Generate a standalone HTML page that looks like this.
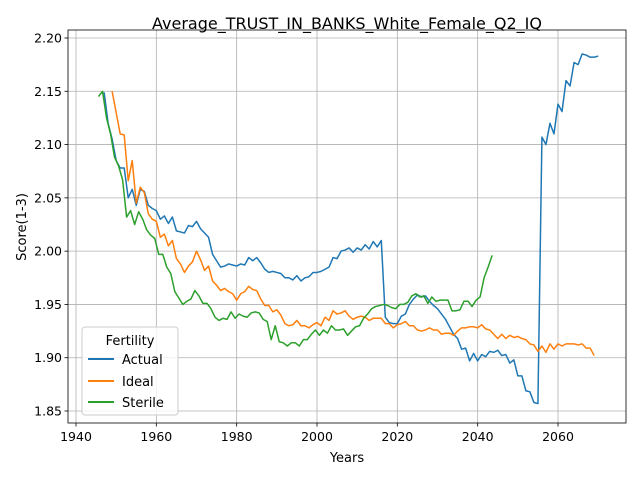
<!DOCTYPE html>
<html><head><meta charset="utf-8"><style>
body{margin:0;background:#fff;font-family:"DejaVu Sans","Liberation Sans",sans-serif}
</style></head><body>
<svg id="chart" width="640" height="480" xmlns="http://www.w3.org/2000/svg" font-family="DejaVu Sans, Liberation Sans, sans-serif">
<rect width="640" height="480" fill="#fff"/>
<text x="347" y="29" text-anchor="middle" font-size="16">Average_TRUST_IN_BANKS_White_Female_Q2_IQ</text>
<g id="grid"></g><g id="series"></g><g id="axes"></g>
<text x="347" y="462" text-anchor="middle" font-size="13">Years</text>
<text transform="translate(26,227) rotate(-90)" text-anchor="middle" font-size="13">Score(1-3)</text>
<g>
<rect x="82" y="327" width="96" height="88" rx="3" fill="#fff" fill-opacity="0.8" stroke="#ccc"/>
<text x="130" y="345" text-anchor="middle" font-size="13">Fertility</text>
<g><line x1="88" y1="359" x2="114" y2="359" stroke="#1f77b4" stroke-width="2"/><text x="122" y="364" font-size="13">Actual</text></g>
<g><line x1="88" y1="381" x2="114" y2="381" stroke="#ff7f0e" stroke-width="2"/><text x="122" y="386" font-size="13">Ideal</text></g>
<g><line x1="88" y1="402" x2="114" y2="402" stroke="#2ca02c" stroke-width="2"/><text x="122" y="407" font-size="13">Sterile</text></g>
</g>
</svg>
<script>
const xTicks=[1940,1960,1980,2000,2020,2040,2060];
const yTicks=[1.85,1.90,1.95,2.00,2.05,2.10,2.15,2.20];
const actualStart=1947;
const actualValues=[2.149,2.12,2.105,2.085,2.078,2.078,2.05,2.058,2.043,2.058,2.056,2.043,2.040,2.038,2.030,2.033,2.026,2.032,2.019,2.018,2.017,2.024,2.023,2.028,2.021,2.017,2.013,1.997,1.991,1.985,1.986,1.988,1.987,1.986,1.988,1.987,1.994,1.991,1.994,1.989,1.983,1.98,1.981,1.980,1.979,1.975,1.975,1.973,1.977,1.972,1.975,1.976,1.980,1.980,1.981,1.983,1.985,1.994,1.993,2.000,2.001,2.003,1.999,2.003,2.001,2.006,2.002,2.009,2.004,2.010,1.938,1.933,1.932,1.932,1.939,1.941,1.950,1.955,1.959,1.957,1.958,1.953,1.949,1.946,1.941,1.936,1.929,1.922,1.918,1.908,1.909,1.897,1.904,1.897,1.903,1.901,1.906,1.905,1.907,1.902,1.903,1.895,1.898,1.883,1.883,1.869,1.868,1.858,1.857,2.107,2.100,2.120,2.110,2.138,2.131,2.160,2.155,2.177,2.175,2.185,2.184,2.182,2.182,2.183];
const idealStart=1949;
const idealValues=[2.15,2.13,2.11,2.109,2.066,2.085,2.045,2.06,2.055,2.035,2.03,2.028,2.013,2.016,2.005,2.01,1.993,1.988,1.98,1.986,1.99,2.0,1.992,1.982,1.986,1.972,1.968,1.963,1.965,1.962,1.96,1.954,1.96,1.962,1.967,1.964,1.963,1.955,1.949,1.949,1.943,1.945,1.940,1.932,1.930,1.931,1.935,1.930,1.930,1.928,1.931,1.933,1.930,1.938,1.935,1.944,1.941,1.942,1.944,1.939,1.936,1.938,1.939,1.938,1.935,1.937,1.937,1.937,1.932,1.932,1.928,1.931,1.932,1.934,1.930,1.930,1.926,1.925,1.926,1.928,1.926,1.926,1.922,1.923,1.923,1.921,1.925,1.928,1.928,1.929,1.929,1.928,1.931,1.927,1.926,1.922,1.918,1.922,1.918,1.921,1.919,1.920,1.918,1.917,1.913,1.912,1.906,1.911,1.905,1.913,1.908,1.913,1.911,1.913,1.913,1.913,1.912,1.913,1.909,1.909,1.902];
const sterileStart=1945.6;
const sterileValues=[2.145,2.15,2.125,2.11,2.088,2.08,2.067,2.032,2.038,2.025,2.037,2.03,2.02,2.015,2.012,1.997,1.997,1.985,1.979,1.962,1.956,1.950,1.953,1.955,1.963,1.958,1.951,1.951,1.946,1.938,1.935,1.937,1.936,1.943,1.937,1.941,1.939,1.938,1.942,1.943,1.942,1.936,1.934,1.917,1.930,1.915,1.914,1.911,1.914,1.914,1.911,1.917,1.917,1.922,1.926,1.921,1.926,1.923,1.930,1.926,1.926,1.927,1.921,1.925,1.929,1.930,1.937,1.941,1.946,1.948,1.949,1.950,1.949,1.947,1.946,1.950,1.950,1.952,1.958,1.960,1.957,1.958,1.951,1.957,1.953,1.954,1.954,1.954,1.944,1.944,1.945,1.953,1.953,1.948,1.954,1.957,1.975,1.985,1.996];

const L=68,R=626,T=30,B=423;
const X=y=>76+(y-1940)*(558-76)/120;
const Y=v=>411-(v-1.85)*(411-38)/0.35;
const NS='http://www.w3.org/2000/svg';
function mk(t,a,p){const e=document.createElementNS(NS,t);for(const k in a)e.setAttribute(k,a[k]);p.appendChild(e);return e;}
const grid=document.getElementById('grid'),axes=document.getElementById('axes'),ser=document.getElementById('series');
xTicks.forEach(t=>{
 const g=mk('line',{x1:X(t),x2:X(t),y1:T,y2:B,stroke:'#b0b0b0','stroke-width':0.8},grid);
 
 
 mk('line',{x1:X(t),x2:X(t),y1:B,y2:B+3.5,stroke:'#000','stroke-width':0.8},axes);
 const tx=mk('text',{x:X(t),y:B+18,'text-anchor':'middle','font-size':12.5},axes);tx.textContent=t;
 
 
});
yTicks.forEach(t=>{
 const g=mk('line',{x1:L,x2:R,y1:Y(t),y2:Y(t),stroke:'#b0b0b0','stroke-width':0.8},grid);
 
 
 mk('line',{x1:L-3.5,x2:L,y1:Y(t),y2:Y(t),stroke:'#000','stroke-width':0.8},axes);
 const tx=mk('text',{x:L-6,y:Y(t)+4.5,'text-anchor':'end','font-size':12.5},axes);tx.textContent=t.toFixed(2);
 
 
});
const fr=mk('rect',{x:L,y:T,width:R-L,height:B-T,fill:'none',stroke:'#000','stroke-width':0.8},axes);


function line(start,vals,color,name){
 const d=vals.map((v,i)=>(i?'L':'M')+X(start+i).toFixed(2)+','+Y(v).toFixed(2)).join('');
 const p=mk('path',{d:d,fill:'none',stroke:color,'stroke-width':1.5,'stroke-linejoin':'round'},ser);
 
 
}
line(actualStart,actualValues,'#1f77b4','actual-line');
line(idealStart,idealValues,'#ff7f0e','ideal-line');
line(sterileStart,sterileValues,'#2ca02c','sterile-line');
</script>
</body></html>
